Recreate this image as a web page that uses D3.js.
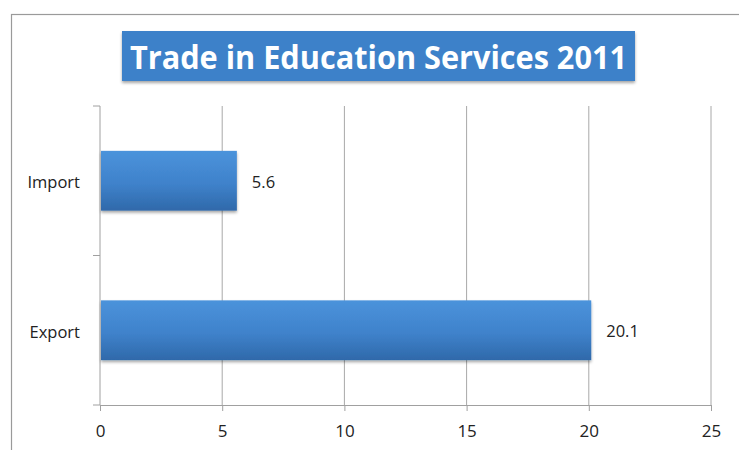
<!DOCTYPE html>
<html>
<head>
<meta charset="utf-8">
<script src="https://cdn.jsdelivr.net/npm/d3@7"></script>
<style>
  html, body { margin: 0; padding: 0; background: #fff; }
  svg { display: block; }
</style>
</head>
<body>
<svg id="chart" width="739" height="450"></svg>
<script>
// Data
const categories = ["Import", "Export"];
const values = [5.6, 20.1];
const xTicks = [0, 5, 10, 15, 20, 25];
const titleText = "Trade in Education Services 2011";

const svg = d3.select("#chart");
const W = 739, H = 450;
const font = "'Open Sans', Carlito, Lato, sans-serif";

// Frame around the chart area (runs off the right and bottom edges)
svg.append("rect")
  .attr("x", 11.5).attr("y", 14.5)
  .attr("width", 900).attr("height", 600)
  .attr("fill", "#fff").attr("stroke", "#9a9a9a").attr("stroke-width", 1.2);

const defs = svg.append("defs");
const grad = defs.append("linearGradient")
  .attr("id", "barGrad").attr("x1", 0).attr("y1", 0).attr("x2", 0).attr("y2", 1);
grad.append("stop").attr("offset", "0%").attr("stop-color", "#4b93db");
grad.append("stop").attr("offset", "55%").attr("stop-color", "#3f82cb");
grad.append("stop").attr("offset", "100%").attr("stop-color", "#2f69aa");

const shadow = defs.append("filter").attr("id", "shadow")
  .attr("x", "-10%").attr("y", "-20%").attr("width", "120%").attr("height", "160%");
shadow.append("feDropShadow")
  .attr("dx", 0).attr("dy", 2).attr("stdDeviation", 1.6)
  .attr("flood-color", "#000").attr("flood-opacity", 0.35);

const margin = { left: 100, right: 28, top: 106, bottom: 45 };
const x = d3.scaleLinear().domain([0, 25]).range([margin.left, W - margin.right]);
const y = d3.scaleBand()
  .domain(categories)
  .range([margin.top, H - margin.bottom])
  .paddingInner(0.6).paddingOuter(0.3);

const plotTop = margin.top, plotBottom = H - margin.bottom;

// Vertical grid lines
svg.append("g").selectAll("line")
  .data(xTicks.filter(d => d > 0))
  .join("line")
  .attr("x1", d => x(d)).attr("x2", d => x(d))
  .attr("y1", plotTop).attr("y2", plotBottom)
  .attr("stroke", "#a8a8a8").attr("stroke-width", 1);

// X axis
const xAxis = svg.append("g")
  .attr("transform", `translate(0,${plotBottom})`)
  .call(d3.axisBottom(x).tickValues(xTicks).tickSize(6).tickPadding(14).tickFormat(d3.format("d")));
xAxis.select(".domain").attr("stroke", "#a0a0a0");
xAxis.selectAll(".tick line").attr("stroke", "#a0a0a0");
xAxis.selectAll(".tick text")
  .attr("font-family", font).attr("font-size", 17).attr("fill", "#222");

// Y axis: ticks at band boundaries
const yBounds = [plotTop, (plotTop + plotBottom) / 2, plotBottom];
const yAxisG = svg.append("g");
yAxisG.append("line")
  .attr("x1", x(0)).attr("x2", x(0))
  .attr("y1", plotTop).attr("y2", plotBottom)
  .attr("stroke", "#a0a0a0");
yAxisG.selectAll("line.tk").data(yBounds).join("line")
  .attr("class", "tk")
  .attr("x1", x(0) - 7).attr("x2", x(0))
  .attr("y1", d => d).attr("y2", d => d)
  .attr("stroke", "#a0a0a0");

// Category labels
svg.append("g").selectAll("text")
  .data(categories)
  .join("text")
  .attr("x", x(0) - 20)
  .attr("y", d => y(d) + y.bandwidth() / 2 + 1.5)
  .attr("dy", "0.35em")
  .attr("text-anchor", "end")
  .attr("font-family", font).attr("font-size", 16.5).attr("fill", "#222")
  .text(d => d);

// Bars
const data = categories.map((c, i) => ({ c, v: values[i] }));
svg.append("g").selectAll("rect")
  .data(data)
  .join("rect")
  .attr("x", x(0) + 1)
  .attr("y", d => y(d.c))
  .attr("width", d => x(d.v) - x(0) - 1)
  .attr("height", y.bandwidth())
  .attr("fill", "url(#barGrad)")
  .attr("filter", "url(#shadow)");

// Value labels
svg.append("g").selectAll("text")
  .data(data)
  .join("text")
  .attr("x", d => x(d.v) + 15)
  .attr("y", d => y(d.c) + y.bandwidth() / 2 + 1)
  .attr("dy", "0.35em")
  .attr("font-family", font).attr("font-size", 16.5).attr("fill", "#222")
  .text(d => d3.format(".1f")(d.v));

// Title box
const tb = { x: 122, y: 31, w: 513, h: 50 };
svg.append("rect")
  .attr("x", tb.x).attr("y", tb.y).attr("width", tb.w).attr("height", tb.h)
  .attr("fill", "#3e81c9")
  .attr("filter", "url(#shadow)");
svg.append("text")
  .attr("x", tb.x + tb.w / 2).attr("y", tb.y + tb.h / 2 + 1.5)
  .attr("dy", "0.36em")
  .attr("text-anchor", "middle")
  .attr("font-family", font).attr("font-weight", "bold").attr("font-size", 33)
  .attr("fill", "#fff")
  .attr("textLength", 497).attr("lengthAdjust", "spacingAndGlyphs")
  .text(titleText);
</script>
</body>
</html>
